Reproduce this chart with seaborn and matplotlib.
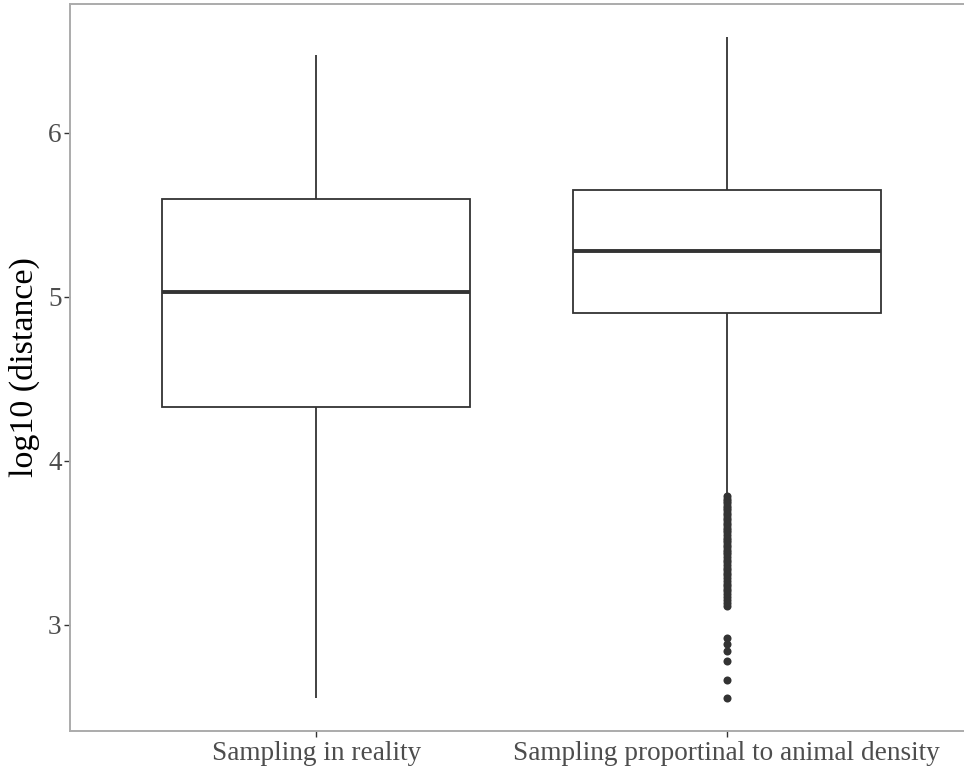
import matplotlib
matplotlib.use("Agg")
import matplotlib.pyplot as plt
import seaborn as sns
import pandas as pd

# Sampling schemes on the x axis
categories = ["Sampling in reality", "Sampling proportinal to animal density"]

# Box summaries (log10 distance) per sampling scheme
whisker_low = [2.555, 3.805]
quartile_1 = [4.329, 4.902]
median = [5.030, 5.280]
quartile_3 = [5.598, 5.652]
whisker_high = [6.476, 6.585]

# Outlying observations of the density-proportional scheme
outliers_density = [
    3.785, 3.770, 3.755, 3.742, 3.728, 3.712, 3.700, 3.683, 3.668, 3.655,
    3.640, 3.622, 3.610, 3.594, 3.578, 3.565, 3.548, 3.533, 3.520, 3.503,
    3.490, 3.474, 3.460, 3.443, 3.430, 3.412, 3.398, 3.382, 3.368, 3.350,
    3.335, 3.318, 3.302, 3.285, 3.270, 3.252, 3.236, 3.220, 3.205, 3.188,
    3.170, 3.152, 3.135, 3.118,
    2.921, 2.884, 2.841, 2.780, 2.665, 2.555,
]

yticks = [3, 4, 5, 6]
ylabel = "log10 (distance)"

# Long table of summary points: five values per group give exact quartiles
rows = []
for i, cat in enumerate(categories):
    for v in (whisker_low[i], quartile_1[i], median[i], quartile_3[i], whisker_high[i]):
        rows.append({"group": cat, "value": v})
box_df = pd.DataFrame(rows)
out_df = pd.DataFrame({"group": [categories[1]] * len(outliers_density),
                       "value": outliers_density})

sns.set_theme(style="white")
plt.rcParams["font.family"] = ["Liberation Serif", "DejaVu Serif"]

fig = plt.figure(figsize=(9.64, 7.71), dpi=100)
ax = fig.add_axes([70 / 964, 40 / 771, 903 / 964, 727 / 771])

line_col = "#333333"
sns.boxplot(data=box_df, x="group", y="value", order=categories, ax=ax,
            color="white", linecolor=line_col, linewidth=1.3, width=0.75,
            whis=(0, 100), showcaps=False, fliersize=0,
            medianprops=dict(linewidth=2.8, color=line_col))
sns.stripplot(data=out_df, x="group", y="value", order=categories, ax=ax,
              jitter=False, color=line_col, size=5.8, linewidth=0)

ax.set_xlim(-0.6, 1.6)
ax.set_ylim(2.3535, 6.7865)
ax.set_yticks(yticks)
ax.set_yticklabels([str(t) for t in yticks])
ax.set_xlabel("")
ax.set_ylabel(ylabel, fontsize=24.5, color="black", labelpad=6)

ax.tick_params(axis="both", which="major", length=4, width=1.0,
               color=line_col, labelcolor="#4D4D4D", labelsize=19.6,
               direction="out", left=True, bottom=True, pad=2)
ax.tick_params(axis="x", pad=3)

for side in ["left", "top", "bottom", "right"]:
    ax.spines[side].set_color("#ABABAB")
    ax.spines[side].set_linewidth(1.4)
    ax.spines[side].set_visible(True)
ax.grid(False)

fig.savefig("out.png", dpi=100)
